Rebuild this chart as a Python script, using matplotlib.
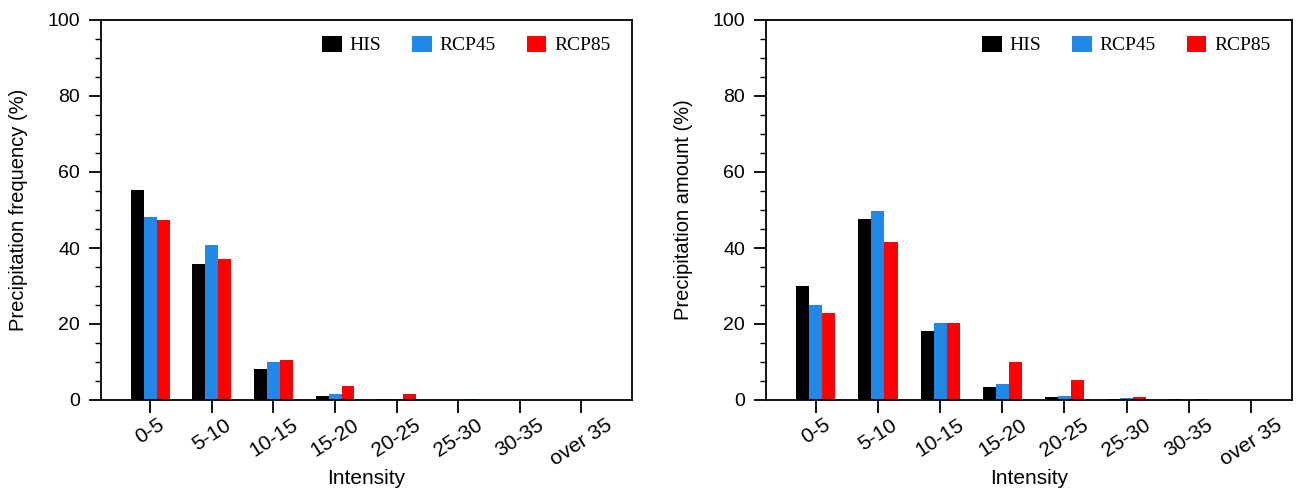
import numpy as np
import matplotlib
matplotlib.use("Agg")
import matplotlib.pyplot as plt
from matplotlib.ticker import MultipleLocator

# intensity bins and scenario values (%)
bins = ["0-5", "5-10", "10-15", "15-20", "20-25", "25-30", "30-35", "over 35"]
series = ["HIS", "RCP45", "RCP85"]
colors = ["#000000", "#2288e8", "#ff0000"]

freq_his = [55.2, 35.7, 8.2, 1.1, 0.3, 0.1, 0.05, 0.0]
freq_rcp45 = [48.1, 40.7, 9.9, 1.5, 0.2, 0.1, 0.05, 0.0]
freq_rcp85 = [47.5, 37.0, 10.6, 3.6, 1.6, 0.2, 0.05, 0.0]

amt_his = [30.1, 47.7, 18.2, 3.5, 0.9, 0.3, 0.2, 0.05]
amt_rcp45 = [24.9, 49.7, 20.2, 4.3, 1.0, 0.5, 0.1, 0.05]
amt_rcp85 = [22.9, 41.5, 20.2, 10.0, 5.3, 0.9, 0.3, 0.05]

sans = ["Liberation Sans", "DejaVu Sans"]
serif = ["Liberation Serif", "DejaVu Serif"]

fig = plt.figure(figsize=(13, 4.91), dpi=100)
ax1 = fig.add_axes([101 / 1300, 1 - 400 / 491, 531 / 1300, 380 / 491])
ax2 = fig.add_axes([766 / 1300, 1 - 400 / 491, 526 / 1300, 380 / 491])

panels = [
    (ax1, [freq_his, freq_rcp45, freq_rcp85], "Precipitation frequency (%)", 7.82),
    (ax2, [amt_his, amt_rcp45, amt_rcp85], "Precipitation amount (%)", 7.66),
]

x = np.arange(len(bins))
w = 0.21
for ax, vals, ylab, xmax in panels:
    for k, (name, v, c) in enumerate(zip(series, vals, colors)):
        ax.bar(x + (k - 1) * w, v, width=w, color=c, label=name, linewidth=0)
    ax.set_xlim(-0.8, xmax)
    ax.set_ylim(0, 100)
    ax.yaxis.set_major_locator(MultipleLocator(20))
    ax.yaxis.set_minor_locator(MultipleLocator(5))
    ax.set_xticks(x)
    ax.set_xticklabels(bins, rotation=33, ha="center", family=sans, fontsize=15)
    for lab in ax.get_yticklabels():
        lab.set_family(sans)
        lab.set_fontsize(14)
    ax.tick_params(axis="y", which="major", length=9, width=1.3, direction="out", pad=6)
    ax.tick_params(axis="y", which="minor", length=4, width=1.0, direction="out")
    ax.tick_params(axis="x", which="major", length=9, width=1.3, direction="out", pad=2)
    ax.tick_params(top=False, right=False)
    for s in ax.spines.values():
        s.set_linewidth(1.3)
    ax.set_ylabel(ylab, family=sans, fontsize=14.5, labelpad=14)
    ax.set_xlabel("Intensity", family=sans, fontsize=15, labelpad=0)
    ax.legend(loc="upper right", ncol=3, frameon=False,
              prop={"family": serif, "size": 14},
              handlelength=1.0, handleheight=0.9, handletextpad=0.4,
              columnspacing=1.6, borderaxespad=0.3, bbox_to_anchor=(0.985, 0.995))

fig.savefig("out.png", dpi=100)
